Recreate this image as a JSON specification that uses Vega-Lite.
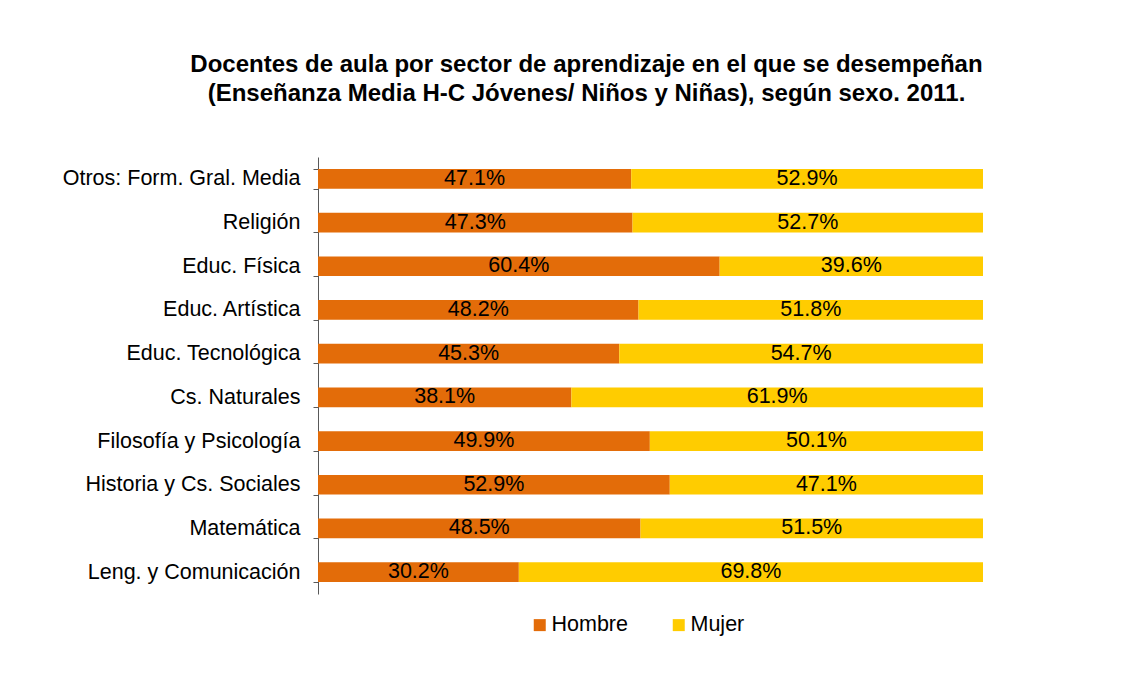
{
  "$schema": "https://vega.github.io/schema/vega-lite/v6.json",
  "autosize": {"type": "none"},
  "width": 665,
  "height": 437,
  "padding": {"left": 318, "top": 157, "right": 154, "bottom": 81},
  "background": "white",
  "config": {
    "font": "Liberation Sans",
    "view": {"stroke": null}
  },
  "title": {
    "text": ["Docentes de aula por sector de aprendizaje en el que se desempeñan", "(Enseñanza Media H-C Jóvenes/ Niños y Niñas), según sexo. 2011."],
    "fontSize": 24,
    "fontWeight": "bold",
    "color": "black",
    "lineHeight": 29,
    "offset": 40,
    "dx": -64,
    "anchor": "middle"
  },
  "data": {
    "values": [
      {"sector": "Otros: Form. Gral. Media", "sexo": "Hombre", "pct": 0.471},
      {"sector": "Otros: Form. Gral. Media", "sexo": "Mujer", "pct": 0.529},
      {"sector": "Religión", "sexo": "Hombre", "pct": 0.473},
      {"sector": "Religión", "sexo": "Mujer", "pct": 0.527},
      {"sector": "Educ. Física", "sexo": "Hombre", "pct": 0.604},
      {"sector": "Educ. Física", "sexo": "Mujer", "pct": 0.396},
      {"sector": "Educ. Artística", "sexo": "Hombre", "pct": 0.482},
      {"sector": "Educ. Artística", "sexo": "Mujer", "pct": 0.518},
      {"sector": "Educ. Tecnológica", "sexo": "Hombre", "pct": 0.453},
      {"sector": "Educ. Tecnológica", "sexo": "Mujer", "pct": 0.547},
      {"sector": "Cs. Naturales", "sexo": "Hombre", "pct": 0.381},
      {"sector": "Cs. Naturales", "sexo": "Mujer", "pct": 0.619},
      {"sector": "Filosofía y  Psicología", "sexo": "Hombre", "pct": 0.499},
      {"sector": "Filosofía y  Psicología", "sexo": "Mujer", "pct": 0.501},
      {"sector": "Historia y Cs. Sociales", "sexo": "Hombre", "pct": 0.529},
      {"sector": "Historia y Cs. Sociales", "sexo": "Mujer", "pct": 0.471},
      {"sector": "Matemática", "sexo": "Hombre", "pct": 0.485},
      {"sector": "Matemática", "sexo": "Mujer", "pct": 0.515},
      {"sector": "Leng. y Comunicación", "sexo": "Hombre", "pct": 0.302},
      {"sector": "Leng. y Comunicación", "sexo": "Mujer", "pct": 0.698}
    ]
  },
  "encoding": {
    "y": {
      "field": "sector",
      "type": "nominal",
      "sort": ["Otros: Form. Gral. Media", "Religión", "Educ. Física", "Educ. Artística", "Educ. Tecnológica", "Cs. Naturales", "Filosofía y  Psicología", "Historia y Cs. Sociales", "Matemática", "Leng. y Comunicación"],
      "scale": {"paddingInner": 0.55, "paddingOuter": 0.275},
      "axis": {
        "title": null,
        "labelFontSize": 21.5,
        "labelColor": "black",
        "labelPadding": 13,
        "tickBand": "extent",
        "tickSize": 5,
        "tickColor": "#595959",
        "domainColor": "#595959",
        "labelLimit": 400
      }
    }
  },
  "layer": [
    {
      "mark": {"type": "bar"},
      "encoding": {
        "x": {"field": "pct", "type": "quantitative", "stack": "zero", "scale": {"domain": [0, 1], "nice": false}, "axis": null},
        "order": {"field": "sexo", "type": "ordinal", "sort": "ascending"},
        "color": {
          "field": "sexo",
          "type": "nominal",
          "scale": {"domain": ["Hombre", "Mujer"], "range": ["#E36C09", "#FFCC00"]},
          "legend": {
            "title": null,
            "orient": "none",
            "direction": "horizontal",
            "legendX": 211,
            "legendY": 457,
            "symbolType": "square",
            "symbolSize": 144,
            "symbolStrokeWidth": 0,
            "symbolOpacity": 1,
            "labelFontSize": 21.5,
            "labelColor": "black",
            "labelOffset": 1,
            "columnPadding": 40
          }
        }
      }
    },
    {
      "mark": {"type": "text", "fontSize": 21.5, "color": "black", "baseline": "middle"},
      "encoding": {
        "x": {"field": "pct", "type": "quantitative", "stack": "zero", "bandPosition": 0.5},
        "order": {"field": "sexo", "type": "ordinal", "sort": "ascending"},
        "detail": {"field": "sexo"},
        "text": {"field": "pct", "type": "quantitative", "format": ".1%"}
      }
    }
  ]
}
